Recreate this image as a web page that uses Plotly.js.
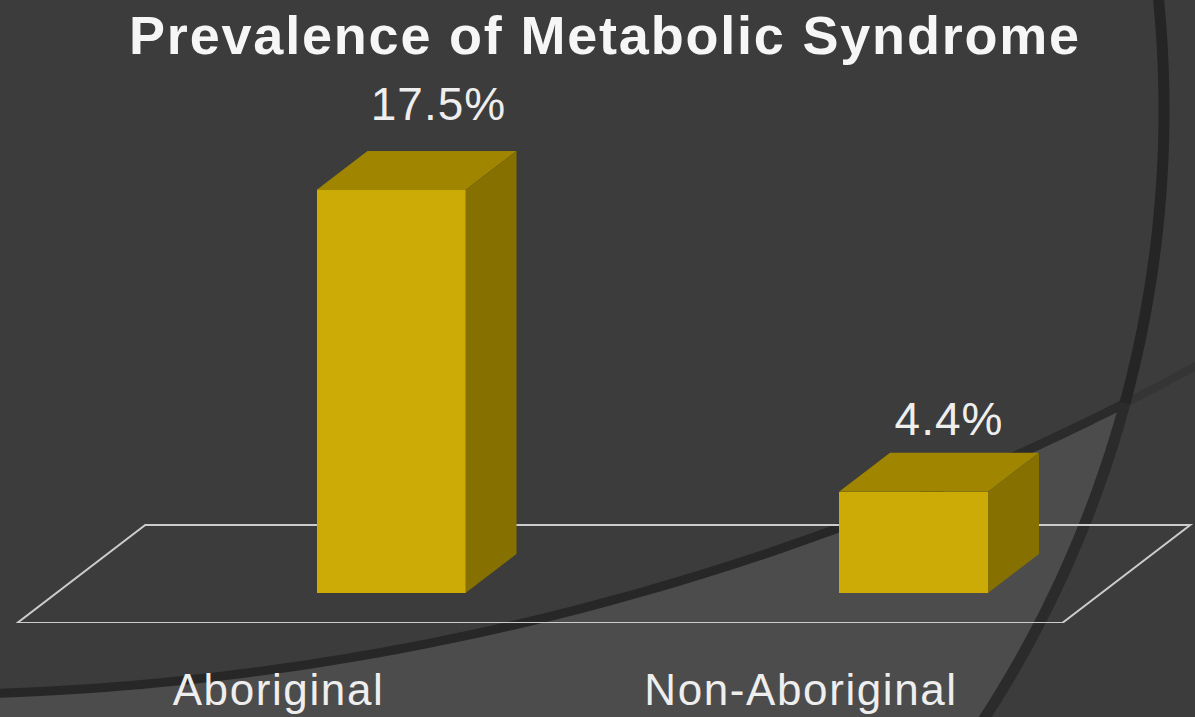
<!DOCTYPE html>
<html><head><meta charset="utf-8">
<script src="https://cdn.plot.ly/plotly-3.0.1.min.js"></script>
<style>html,body{margin:0;padding:0;background:#3c3c3c;overflow:hidden}#chart{width:1195px;height:717px}
.xtick text{letter-spacing:1.6px}
.gtitle{letter-spacing:1.8px}
.textpoint text{letter-spacing:1px}
</style>
</head><body><div id="chart"></div>
<script>
const categories = ['Aboriginal', 'Non-Aboriginal'];
const prevalence = [17.5, 4.4];
const valueLabels = ['17.5%', '4.4%'];

const W = 1195, H = 717, plotBottom = 623;
const pxPerCat = 522.5, tick0Px = 278.5, pxPerUnit = 23.03, zeroPx = 593;
const xOf = px => (px - tick0Px) / pxPerCat;
const dxU = px => px / pxPerCat, dyU = px => px / pxPerUnit;
const barShift = dxU(112.5), barW = dxU(149), depthX = dxU(51), depthY = dyU(39);
const labelShift = [dxU(47.5), dxU(35.5)], labelRise = [dyU(81.5), dyU(68.5)];
const catIdx = categories.map((_, i) => i);
const left = catIdx.map(i => i + barShift - barW / 2), right = catIdx.map(i => i + barShift + barW / 2);

const face = (xs, ys, color) => ({type: 'scatter', mode: 'lines', x: xs, y: ys, fill: 'toself', fillcolor: color,
  line: {width: 0, color: color}, hoverinfo: 'skip', showlegend: false});
const traces = [{type: 'bar', x: catIdx.map(i => i + barShift), y: prevalence, width: barW,
  marker: {color: '#cdab07', line: {width: 0}}, hoverinfo: 'skip', showlegend: false}];
catIdx.forEach(i => {
  const v = prevalence[i];
  traces.push(face([left[i], left[i] + depthX, right[i] + depthX, right[i], left[i]], [v, v + depthY, v + depthY, v, v], '#a08500'));
  traces.push(face([right[i], right[i] + depthX, right[i] + depthX, right[i], right[i]], [0, depthY, v + depthY, v, 0], '#857000'));
});
traces.push({type: 'scatter', mode: 'text', x: catIdx.map(i => i + barShift + labelShift[i]),
  y: prevalence.map((v, i) => v + labelRise[i]), text: valueLabels, textposition: 'middle center', cliponaxis: false,
  textfont: {family: 'Liberation Sans, Arial, sans-serif', size: 46, color: '#eeeeee'}, hoverinfo: 'skip', showlegend: false});

// slide-theme decoration: two large circles, sampled in screen pixels
const pX = px => px / W, pY = py => (plotBottom - py) / plotBottom;
const A = {cx: 44, cy: 110, r: 1120}, B = {cx: -97.5, cy: -2012, r: 2707};
const bY = x => B.cy + Math.sqrt(B.r * B.r - (x - B.cx) * (x - B.cx));
const aX = y => A.cx + Math.sqrt(A.r * A.r - (y - A.cy) * (y - A.cy));
let cross = 1125; for (let k = 0; k < 20; k++) cross = aX(bY(cross));
const crossY = bY(cross);
const seq = (a, b, n) => Array.from({length: n + 1}, (_, k) => a + (b - a) * k / n);
const arcB = (a, b) => seq(a, b, 60).map(x => [x, bY(x)]);
const arcA = (a, b) => seq(a, b, 60).map(y => [aX(y), y]);
const toPath = (pts, close) => pts.map((p, k) => (k ? 'L' : 'M') + pX(p[0]).toFixed(5) + ',' + pY(p[1]).toFixed(5)).join(' ') + (close ? ' Z' : '');
const deco = (path, fill, lineColor, w) => ({type: 'path', xref: 'paper', yref: 'paper', layer: 'below', path: path,
  fillcolor: fill || 'rgba(0,0,0,0)', line: {color: lineColor || 'rgba(0,0,0,0)', width: w || 0}});
const lightRegion = arcB(0, cross).concat(arcA(crossY, H + 20)).concat([[0, H + 20]]);
const shapes = [
  deco(toPath(lightRegion, true), '#4c4c4c'),
  deco(toPath(arcB(-10, 1000)), null, '#272727', 9),
  deco(toPath(arcB(1000, cross)), null, '#2b2b2b', 9),
  deco(toPath(arcB(cross, W + 10)), null, '#353535', 8),
  deco(toPath(arcA(-10, crossY)), null, '#252525', 11),
  deco(toPath(arcA(crossY, H + 20)), null, '#2b2b2b', 11),
  {type: 'path', xref: 'x', yref: 'y', layer: 'below',
   path: 'M-0.5,' + (-30 / pxPerUnit) + ' L1.5,' + (-30 / pxPerUnit) + ' L' + (1.5 + dxU(128)) + ',' + dyU(68) + ' L' + (-0.5 + dxU(128)) + ',' + dyU(68) + ' Z',
   fillcolor: 'rgba(0,0,0,0)', line: {color: '#cccccc', width: 2}}
];

Plotly.newPlot('chart', traces, {
  width: W, height: H, autosize: false,
  margin: {l: 0, r: 0, t: 0, b: H - plotBottom, pad: 0},
  paper_bgcolor: '#3c3c3c', plot_bgcolor: 'rgba(0,0,0,0)',
  font: {family: 'Liberation Sans, Arial, sans-serif', color: '#eeeeee'},
  title: {text: '<b>Prevalence of Metabolic Syndrome</b>', x: 605 / W, xanchor: 'center', y: 1 - 35 / H, yanchor: 'middle',
    font: {family: 'Liberation Sans, Arial, sans-serif', size: 54, color: '#f6f6f6'}},
  xaxis: {range: [xOf(0), xOf(W)], tickmode: 'array', tickvals: catIdx, ticktext: categories, ticks: '', ticklabelstandoff: 37,
    tickfont: {family: 'Liberation Sans, Arial, sans-serif', size: 44, color: '#eeeeee'},
    showgrid: false, zeroline: false, showline: false, fixedrange: true},
  yaxis: {range: [(zeroPx - plotBottom) / pxPerUnit, zeroPx / pxPerUnit], visible: false, fixedrange: true},
  shapes: shapes, showlegend: false, hovermode: false, bargap: 0
}, {displayModeBar: false, staticPlot: true});
</script></body></html>
